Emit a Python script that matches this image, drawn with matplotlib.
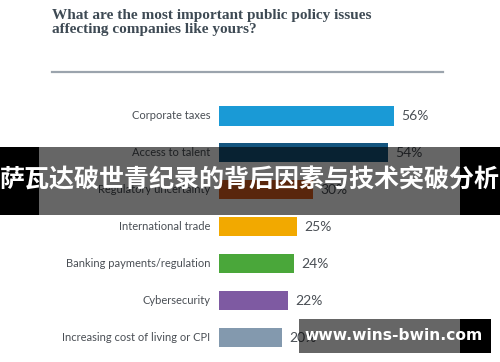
import matplotlib.pyplot as plt
from matplotlib.patches import Rectangle

categories = ["Corporate taxes", "Access to talent", "Regulatory uncertainty",
              "International trade", "Banking payments/regulation",
              "Cybersecurity", "Increasing cost of living or CPI"]
values = [56, 54, 30, 25, 24, 22, 20]
colors = ["#1a9ad6", "#14557f", "#e0601e", "#f2a900", "#4aa73a", "#7e5aa2", "#8399ae"]

title = "What are the most important public policy issues\naffecting companies like yours?"
banner = "萨瓦达破世青纪录的背后因素与技术突破分析"
watermark = "www.wins-bwin.com"

W, H = 500, 362
fig = plt.figure(figsize=(W / 100, H / 100), dpi=100)
fig.patch.set_facecolor("white")

# axes placed in pixels: x=0 -> 219px, 3.125 px per percent
x0, xmax = 219, 72
top, bottom = 97.5, 356
ax = fig.add_axes([x0 / W, 1 - bottom / H, xmax * 3.125 / W, (bottom - top) / H])
ypos = list(range(len(categories)))
ax.barh(ypos, values, height=0.52, color=colors, edgecolor="none")
ax.set_xlim(0, xmax)
ax.set_ylim(len(categories) - 0.5, -0.5)
ax.axis("off")

for y, v, c in zip(ypos, values, categories):
    ax.text(-2.8, y, c, ha="right", va="center", fontsize=8.0,
            family="Lato", color="#4a4f55")
    ax.text(v + 2.4, y, f"{v}%", ha="left", va="center", fontsize=10,
            family="Lato", color="#4a4f55")

fig.text(52 / W, 1 - 9 / H, title, ha="left", va="top", fontsize=11,
         family="Liberation Serif", weight="bold", color="#3e4a54",
         linespacing=1.05)
fig.add_artist(plt.Line2D([52 / W, 443 / W], [1 - 72 / H] * 2,
                          color="#9ba4ad", lw=1.6))

# dark banner across the middle
bt, bb = 147, 215
fig.add_artist(Rectangle((39 / W, 1 - bb / H), 421 / W, (bb - bt) / H,
                         transform=fig.transFigure, color="black", alpha=0.6, lw=0))
for xa, xb in [(0, 39), (460, 500)]:
    fig.add_artist(Rectangle((xa / W, 1 - bb / H), (xb - xa) / W, (bb - bt) / H,
                             transform=fig.transFigure, color="black", lw=0))
fig.text(0.5, 1 - 181 / H, banner, ha="center", va="center", fontsize=18.0,
         family=["Noto Sans CJK SC", "DejaVu Sans"], weight="bold", color="white")

# watermark box
wt, wb = 319, 353
fig.add_artist(Rectangle((299 / W, 1 - wb / H), 161 / W, (wb - wt) / H,
                         transform=fig.transFigure, color="black", alpha=0.6, lw=0))
fig.add_artist(Rectangle((460 / W, 1 - wb / H), 31 / W, (wb - wt) / H,
                         transform=fig.transFigure, color="black", lw=0))
fig.text(394 / W, 1 - 336 / H, watermark, ha="center", va="center", fontsize=11.2,
         family="DejaVu Sans", weight="bold", color="white")

fig.savefig("out.png", dpi=100)
